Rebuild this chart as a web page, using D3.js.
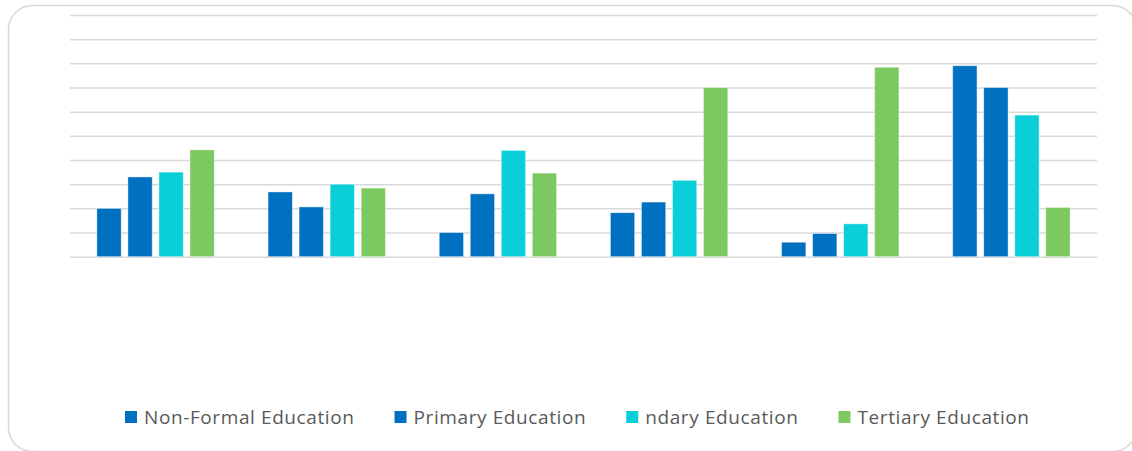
<!DOCTYPE html>
<html>
<head>
<meta charset="utf-8">
<script src="https://cdn.jsdelivr.net/npm/d3@7"></script>
<style>
  html, body { margin: 0; padding: 0; background: #ffffff; }
  svg { display: block; }
</style>
</head>
<body>
<svg id="chart" width="1132" height="451"></svg>
<script>
// Education level shares per group (percent)
const categories = ["G1", "G2", "G3", "G4", "G5", "G6"];
const seriesNames = ["Non-Formal Education", "Primary Education", "ndary Education", "Tertiary Education"];
const nonFormal = [10.0, 13.4, 5.0, 9.1, 3.0, 39.5];
const primary   = [16.5, 10.3, 13.0, 11.3, 4.8, 35.0];
const secondary = [17.5, 15.0, 22.0, 15.8, 6.8, 29.3];
const tertiary  = [22.1, 14.2, 17.3, 35.0, 39.2, 10.2];
const yTicks = [0, 5, 10, 15, 20, 25, 30, 35, 40, 45, 50];

const seriesValues = [nonFormal, primary, secondary, tertiary];
const colors = ["#0070c0", "#0070c0", "#0bcfd8", "#7cc962"];

const svg = d3.select("#chart");

// Card outline
svg.append("rect")
  .attr("x", 8.5).attr("y", 5.5)
  .attr("width", 1128).attr("height", 446)
  .attr("rx", 24).attr("ry", 24)
  .attr("fill", "#ffffff")
  .attr("stroke", "#d9d9d9")
  .attr("stroke-width", 1.6);

const plot = { left: 70, right: 1097, top: 15, bottom: 256.7 };

const y = d3.scaleLinear().domain([0, 50]).range([plot.bottom, plot.top]);

const x0 = d3.scaleBand()
  .domain(categories)
  .range([plot.left, plot.right])
  .paddingInner(0.314)
  .paddingOuter(0.157);

const x1 = d3.scaleBand()
  .domain(d3.range(seriesNames.length))
  .range([0, x0.bandwidth()])
  .paddingInner(0.216);

// Horizontal gridlines
const yAxis = d3.axisLeft(y)
  .tickValues(yTicks)
  .tickSize(-(plot.right - plot.left))
  .tickFormat("");

const gGrid = svg.append("g")
  .attr("transform", `translate(${plot.left},0)`)
  .call(yAxis);
gGrid.select(".domain").remove();
gGrid.selectAll(".tick line")
  .attr("stroke", "#d9d9d9")
  .attr("stroke-width", 1.5);

// Bars
const groups = svg.append("g")
  .selectAll("g")
  .data(categories)
  .join("g")
  .attr("transform", d => `translate(${x0(d)},0)`);

groups.selectAll("rect")
  .data((d, i) => seriesValues.map((vals, s) => ({ s, v: vals[i] })))
  .join("rect")
  .attr("x", d => x1(d.s))
  .attr("width", x1.bandwidth())
  .attr("y", d => y(d.v))
  .attr("height", d => y(0) - y(d.v))
  .attr("fill", d => colors[d.s])
  .attr("stroke", "rgba(255,255,255,0.55)")
  .attr("stroke-width", 0.8);

// Legend
const legend = svg.append("g")
  .attr("font-family", "'Open Sans', sans-serif")
  .attr("font-size", 19)
  .attr("letter-spacing", "0.6px");

let lx = 125;
seriesNames.forEach((name, i) => {
  legend.append("rect")
    .attr("x", lx).attr("y", 411)
    .attr("width", 12).attr("height", 12)
    .attr("fill", colors[i]);
  const t = legend.append("text")
    .attr("x", lx + 19).attr("y", 423.5)
    .attr("fill", "#595959")
    .text(name);
  const w = t.node().getComputedTextLength();
  lx = lx + 19 + w + 40;
});
</script>
</body>
</html>
